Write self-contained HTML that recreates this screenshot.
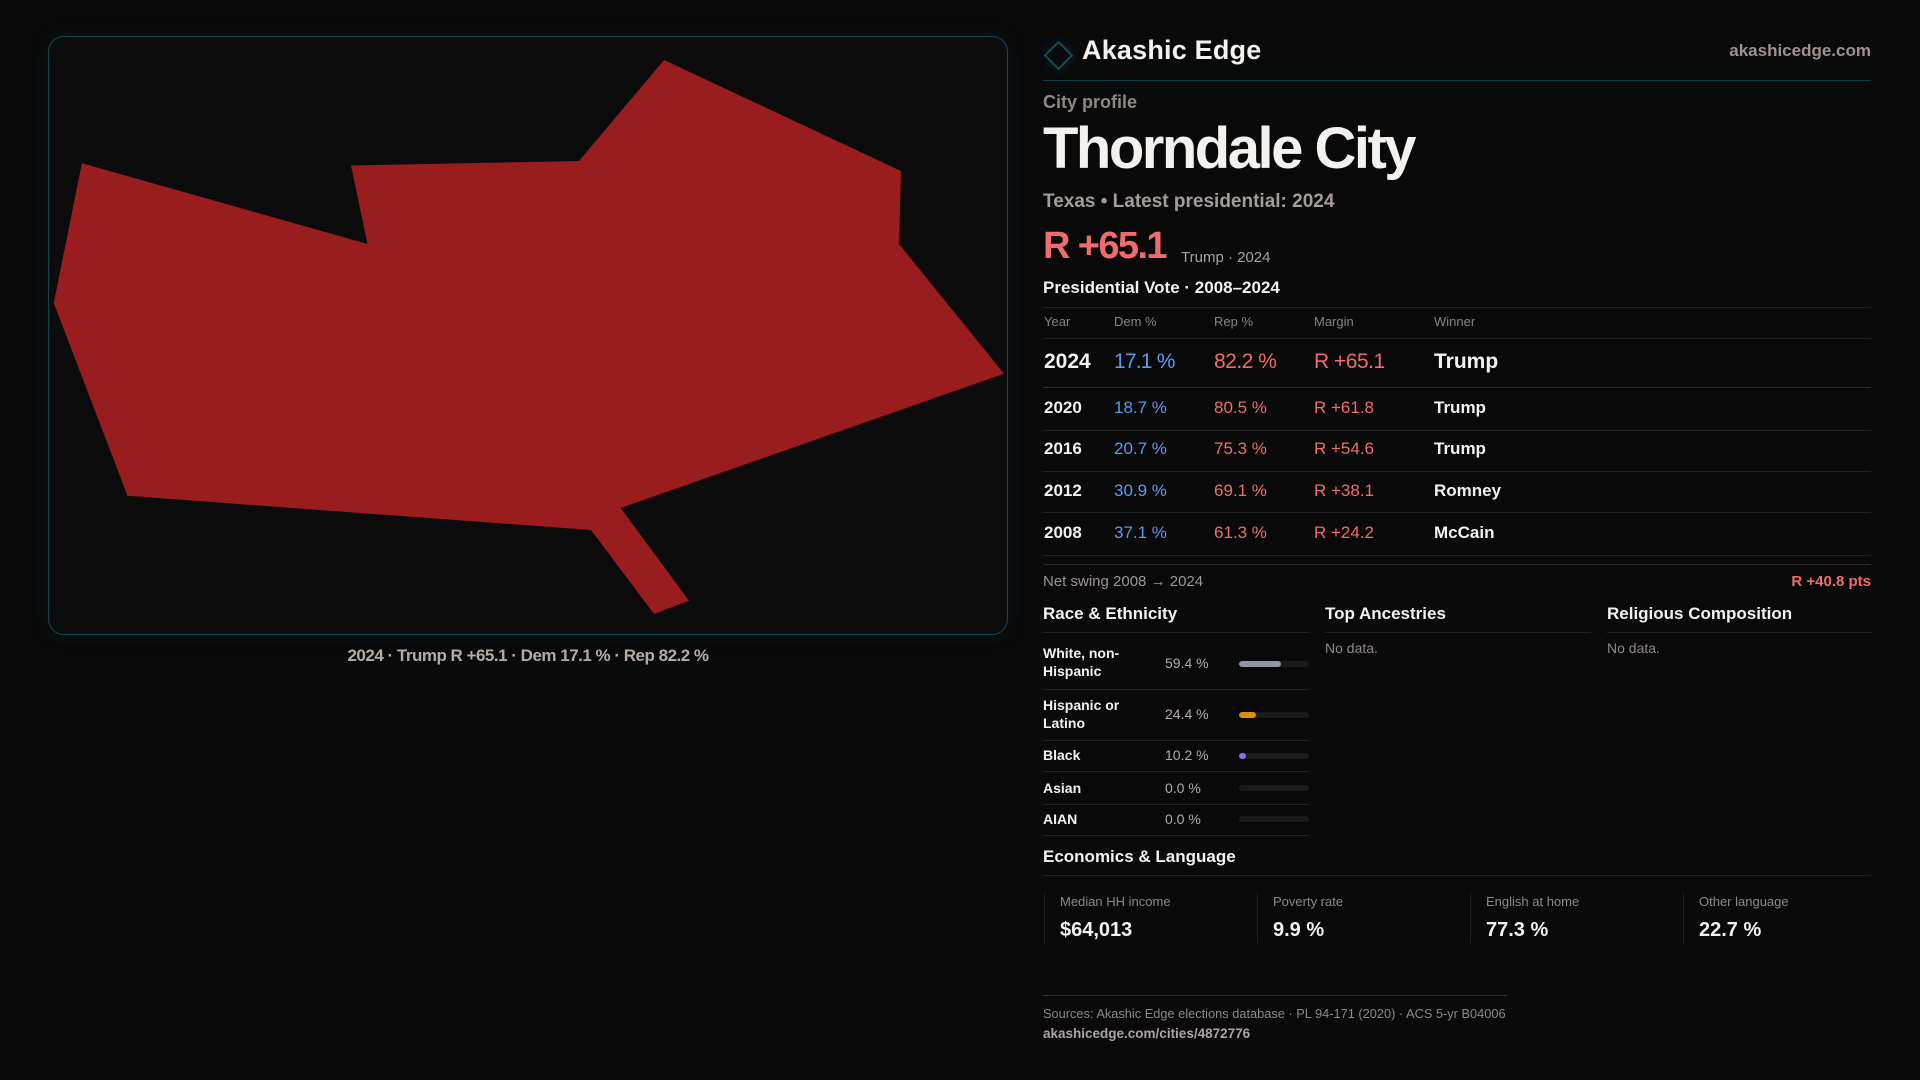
<!DOCTYPE html>
<html>
<head>
<meta charset="utf-8">
<style>
  html,body{margin:0;padding:0;}
  body{width:1920px;height:1080px;background:#09090a;position:relative;overflow:hidden;font-family:"Liberation Sans",sans-serif;}
  .t{position:absolute;white-space:nowrap;font-family:"Liberation Sans",sans-serif;}
  .b{font-weight:bold;}
  .w{color:#f4f1ef;}
  .g{color:#8f8784;}
  .bl{color:#5a9bf0;}
  .rd{color:#f06c6c;}
  .ln{position:absolute;height:1px;background:#201f21;}
  .track{position:absolute;left:1239px;width:70px;height:6px;border-radius:3px;background:#1a191b;overflow:hidden;}
  .fill{position:absolute;left:0;top:0;height:6px;border-radius:3px;}
  .vb{position:absolute;width:1px;top:893px;height:50px;background:#201f21;}
</style>
</head>
<body>

<!-- Map panel -->
<div style="position:absolute;left:48px;top:36px;width:958px;height:597px;border:1px solid #134853;border-radius:16px;background:#0c0b0c;box-shadow:0 0 18px rgba(18,70,80,0.18);"></div>
<svg style="position:absolute;left:0;top:0" width="1920" height="1080" viewBox="0 0 1920 1080">
  <polygon fill="#991c1e" points="81.9,163.2 367.5,244 351,165.5 579,161 664,60 901,171 899,244 1004,373.7 620.6,508 689,600.7 654,614 591,530 127.5,495.8 53.75,303"/>
</svg>
<div class="t b" style="left:48px;width:960px;text-align:center;top:646px;font-size:17px;line-height:20px;color:#b3aba7;letter-spacing:-0.5px;">2024 · Trump R +65.1 · Dem 17.1 % · Rep 82.2 %</div>

<!-- Header -->
<div style="position:absolute;left:1048px;top:45px;width:17px;height:17px;border:2px solid #0f4c57;transform:rotate(45deg);box-shadow:0 0 10px rgba(15,76,87,0.35);"></div>
<div class="t b w" style="left:1082px;top:35px;font-size:27px;line-height:30px;letter-spacing:0.2px;">Akashic Edge</div>
<div class="t b" style="right:49px;top:41px;font-size:17px;line-height:20px;color:#9b938f;">akashicedge.com</div>
<div style="position:absolute;left:1043px;top:80px;width:828px;height:1px;background:#0f3b44;"></div>

<div class="t b" style="left:1043px;top:92px;font-size:18px;line-height:20px;color:#8f8784;">City profile</div>
<div class="t b w" style="left:1043px;top:117px;font-size:58px;line-height:64px;letter-spacing:-2.5px;">Thorndale City</div>
<div class="t b" style="left:1043px;top:191px;font-size:19px;line-height:22px;color:#a49c98;">Texas • Latest presidential: 2024</div>
<div class="t b rd" style="left:1043px;top:225px;font-size:38px;line-height:42px;letter-spacing:-1.6px;">R +65.1</div>
<div class="t" style="left:1181px;top:249px;font-size:15px;line-height:18px;color:#a9a19d;">Trump · 2024</div>

<div class="t b w" style="left:1043px;top:278px;font-size:17px;line-height:20px;">Presidential Vote · 2008–2024</div>
<div class="ln" style="left:1043px;top:307px;width:828px;"></div>

<!-- table header -->
<div class="t" style="left:1044px;top:314px;font-size:13px;line-height:16px;color:#8a827f;">Year</div>
<div class="t" style="left:1114px;top:314px;font-size:13px;line-height:16px;color:#8a827f;">Dem %</div>
<div class="t" style="left:1214px;top:314px;font-size:13px;line-height:16px;color:#8a827f;">Rep %</div>
<div class="t" style="left:1314px;top:314px;font-size:13px;line-height:16px;color:#8a827f;">Margin</div>
<div class="t" style="left:1434px;top:314px;font-size:13px;line-height:16px;color:#8a827f;">Winner</div>
<div class="ln" style="left:1043px;top:338px;width:828px;"></div>

<!-- 2024 -->
<div class="t b w" style="left:1044px;top:350px;font-size:21px;line-height:24px;">2024</div>
<div class="t bl" style="left:1114px;top:350px;font-size:21px;line-height:24px;letter-spacing:-0.8px;">17.1 %</div>
<div class="t rd" style="left:1214px;top:350px;font-size:21px;line-height:24px;letter-spacing:-0.5px;">82.2 %</div>
<div class="t rd" style="left:1314px;top:350px;font-size:21px;line-height:24px;letter-spacing:-0.5px;">R +65.1</div>
<div class="t b w" style="left:1434px;top:350px;font-size:21px;line-height:24px;">Trump</div>
<div class="ln" style="left:1043px;top:387px;width:828px;background:#2d2b2d;"></div>

<!-- 2020 -->
<div class="t b w" style="left:1044px;top:398px;font-size:17px;line-height:20px;">2020</div>
<div class="t bl" style="left:1114px;top:398px;font-size:17px;line-height:20px;">18.7 %</div>
<div class="t rd" style="left:1214px;top:398px;font-size:17px;line-height:20px;">80.5 %</div>
<div class="t rd" style="left:1314px;top:398px;font-size:17px;line-height:20px;">R +61.8</div>
<div class="t b w" style="left:1434px;top:398px;font-size:17px;line-height:20px;">Trump</div>
<div class="ln" style="left:1043px;top:430px;width:828px;"></div>

<!-- 2016 -->
<div class="t b w" style="left:1044px;top:439px;font-size:17px;line-height:20px;">2016</div>
<div class="t bl" style="left:1114px;top:439px;font-size:17px;line-height:20px;">20.7 %</div>
<div class="t rd" style="left:1214px;top:439px;font-size:17px;line-height:20px;">75.3 %</div>
<div class="t rd" style="left:1314px;top:439px;font-size:17px;line-height:20px;">R +54.6</div>
<div class="t b w" style="left:1434px;top:439px;font-size:17px;line-height:20px;">Trump</div>
<div class="ln" style="left:1043px;top:471px;width:828px;"></div>

<!-- 2012 -->
<div class="t b w" style="left:1044px;top:481px;font-size:17px;line-height:20px;">2012</div>
<div class="t bl" style="left:1114px;top:481px;font-size:17px;line-height:20px;">30.9 %</div>
<div class="t rd" style="left:1214px;top:481px;font-size:17px;line-height:20px;">69.1 %</div>
<div class="t rd" style="left:1314px;top:481px;font-size:17px;line-height:20px;">R +38.1</div>
<div class="t b w" style="left:1434px;top:481px;font-size:17px;line-height:20px;">Romney</div>
<div class="ln" style="left:1043px;top:512px;width:828px;"></div>

<!-- 2008 -->
<div class="t b w" style="left:1044px;top:523px;font-size:17px;line-height:20px;">2008</div>
<div class="t bl" style="left:1114px;top:523px;font-size:17px;line-height:20px;">37.1 %</div>
<div class="t rd" style="left:1214px;top:523px;font-size:17px;line-height:20px;">61.3 %</div>
<div class="t rd" style="left:1314px;top:523px;font-size:17px;line-height:20px;">R +24.2</div>
<div class="t b w" style="left:1434px;top:523px;font-size:17px;line-height:20px;">McCain</div>
<div class="ln" style="left:1043px;top:555px;width:828px;"></div>
<div class="ln" style="left:1043px;top:564px;width:828px;background:#2a282a;"></div>

<div class="t" style="left:1043px;top:573px;font-size:15px;line-height:18px;color:#9d9591;">Net swing 2008 → 2024</div>
<div class="t b rd" style="right:49px;top:573px;font-size:15px;line-height:18px;">R +40.8 pts</div>

<!-- Section heads -->
<div class="t b w" style="left:1043px;top:604px;font-size:17px;line-height:20px;">Race &amp; Ethnicity</div>
<div class="t b w" style="left:1325px;top:604px;font-size:17px;line-height:20px;">Top Ancestries</div>
<div class="t b w" style="left:1607px;top:604px;font-size:17px;line-height:20px;">Religious Composition</div>
<div class="ln" style="left:1043px;top:632px;width:266px;"></div>
<div class="ln" style="left:1325px;top:632px;width:266px;"></div>
<div class="ln" style="left:1607px;top:632px;width:265px;"></div>
<div class="t g" style="left:1325px;top:640px;font-size:14px;line-height:16px;">No data.</div>
<div class="t g" style="left:1607px;top:640px;font-size:14px;line-height:16px;">No data.</div>

<!-- Race rows -->
<div class="t b w" style="left:1043px;top:644px;font-size:14px;line-height:18px;">White, non-<br>Hispanic</div>
<div class="t" style="left:1165px;top:655px;font-size:14px;line-height:16px;color:#b3aba7;">59.4 %</div>
<div class="track" style="top:661px;"><div class="fill" style="width:42px;background:#8e97a6;"></div></div>
<div class="ln" style="left:1043px;top:689px;width:266px;"></div>

<div class="t b w" style="left:1043px;top:696px;font-size:14px;line-height:18px;">Hispanic or<br>Latino</div>
<div class="t" style="left:1165px;top:706px;font-size:14px;line-height:16px;color:#b3aba7;">24.4 %</div>
<div class="track" style="top:712px;"><div class="fill" style="width:17px;background:#d98e10;"></div></div>
<div class="ln" style="left:1043px;top:740px;width:266px;"></div>

<div class="t b w" style="left:1043px;top:747px;font-size:14px;line-height:16px;">Black</div>
<div class="t" style="left:1165px;top:747px;font-size:14px;line-height:16px;color:#b3aba7;">10.2 %</div>
<div class="track" style="top:753px;"><div class="fill" style="width:7px;background:#8f6ee0;"></div></div>
<div class="ln" style="left:1043px;top:771px;width:266px;"></div>

<div class="t b w" style="left:1043px;top:780px;font-size:14px;line-height:16px;">Asian</div>
<div class="t" style="left:1165px;top:780px;font-size:14px;line-height:16px;color:#b3aba7;">0.0 %</div>
<div class="track" style="top:785px;"></div>
<div class="ln" style="left:1043px;top:804px;width:266px;"></div>

<div class="t b w" style="left:1043px;top:811px;font-size:14px;line-height:16px;">AIAN</div>
<div class="t" style="left:1165px;top:811px;font-size:14px;line-height:16px;color:#b3aba7;">0.0 %</div>
<div class="track" style="top:816px;"></div>
<div class="ln" style="left:1043px;top:835px;width:266px;"></div>

<!-- Economics -->
<div class="t b w" style="left:1043px;top:847px;font-size:17px;line-height:20px;">Economics &amp; Language</div>
<div class="ln" style="left:1043px;top:875px;width:828px;"></div>

<div class="vb" style="left:1044px;"></div>
<div class="vb" style="left:1257px;"></div>
<div class="vb" style="left:1470px;"></div>
<div class="vb" style="left:1683px;"></div>

<div class="t g" style="left:1060px;top:894px;font-size:13px;line-height:16px;">Median HH income</div>
<div class="t g" style="left:1273px;top:894px;font-size:13px;line-height:16px;">Poverty rate</div>
<div class="t g" style="left:1486px;top:894px;font-size:13px;line-height:16px;">English at home</div>
<div class="t g" style="left:1699px;top:894px;font-size:13px;line-height:16px;">Other language</div>

<div class="t b w" style="left:1060px;top:918px;font-size:20px;line-height:24px;">$64,013</div>
<div class="t b w" style="left:1273px;top:918px;font-size:20px;line-height:24px;">9.9 %</div>
<div class="t b w" style="left:1486px;top:918px;font-size:20px;line-height:24px;">77.3 %</div>
<div class="t b w" style="left:1699px;top:918px;font-size:20px;line-height:24px;">22.7 %</div>

<!-- Footer -->
<div style="position:absolute;left:1043px;top:995px;width:464px;height:1px;background:#0f3a43;"></div>
<div class="t g" style="left:1043px;top:1006px;font-size:12.8px;line-height:15px;">Sources: Akashic Edge elections database · PL 94-171 (2020) · ACS 5-yr B04006</div>
<div class="t b" style="left:1043px;top:1026px;font-size:13.5px;line-height:16px;color:#aca4a0;">akashicedge.com/cities/4872776</div>

</body>
</html>
